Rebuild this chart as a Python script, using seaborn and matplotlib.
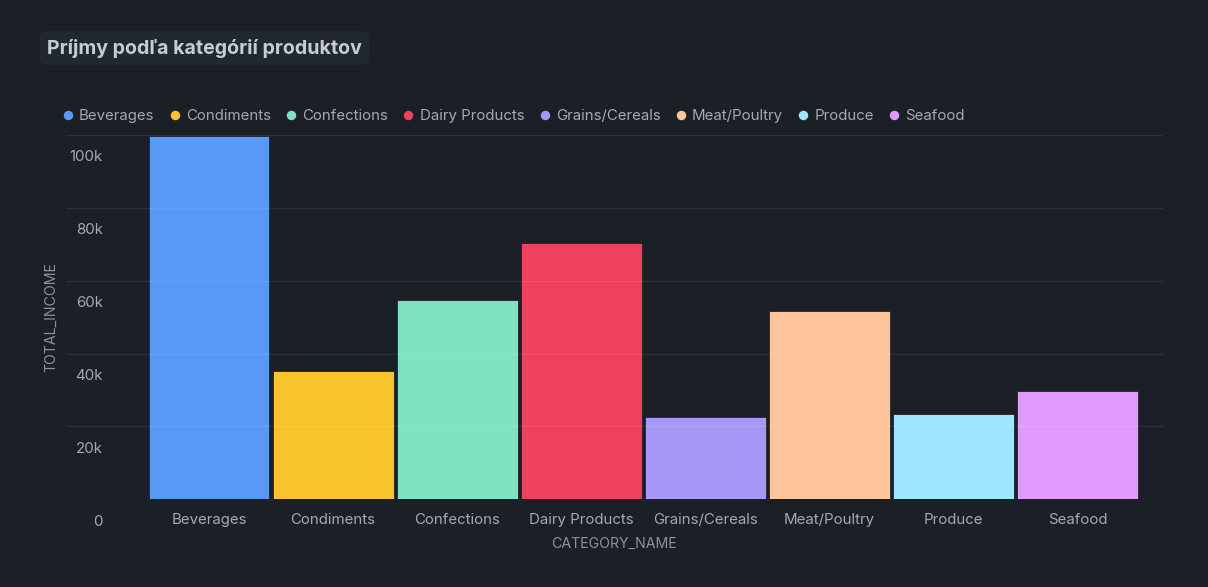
import matplotlib
matplotlib.use("Agg")
import matplotlib.pyplot as plt
import matplotlib.transforms as mtransforms
from matplotlib.lines import Line2D
from matplotlib.ticker import FuncFormatter
import seaborn as sns

# data
categories = ["Beverages", "Condiments", "Confections", "Dairy Products",
              "Grains/Cereals", "Meat/Poultry", "Produce", "Seafood"]
total_income = [99600, 35100, 54700, 70400, 22600, 51600, 23500, 29600]
bar_colors = ["#5899f8", "#f8c42c", "#7fe3c2", "#ef405d",
              "#a897f8", "#fec49c", "#9de6fe", "#e19bfd"]
y_ticks = [0, 20000, 40000, 60000, 80000, 100000]

BG = "#1b1f26"
TICK_COLOR = "#a2a9b7"
LABEL_COLOR = "#8b929f"

sns.set_theme(style="dark")
plt.rcParams["font.family"] = ["Inter", "DejaVu Sans"]

W, H, DPI = 1208, 587, 100
fig = plt.figure(figsize=(W / DPI, H / DPI), dpi=DPI, facecolor=BG)
ax = fig.add_axes([66 / W, 1 - 499.3 / H, 1097 / W, (499.3 - 135) / H])
ax.set_facecolor(BG)

sns.barplot(x=categories, y=total_income, hue=categories, palette=bar_colors,
            width=0.975, legend=False, saturation=1, ax=ax,
            edgecolor="#20242b", linewidth=0.6, zorder=2)

ax.set_xlim(-1.1526, 7.689)
ax.set_ylim(0, 100000)
ax.set_yticks(y_ticks)
ax.yaxis.set_major_formatter(FuncFormatter(lambda v, p: "0" if v == 0 else f"{int(v / 1000)}k"))

for s in ax.spines.values():
    s.set_visible(False)
# faint light gridlines, drawn on top so they show through the bars a little
ax.grid(axis="y", color="white", alpha=0.08, linewidth=1)
ax.grid(axis="x", visible=False)
ax.set_axisbelow(False)
for line in ax.get_ygridlines():
    line.set_zorder(3)

ax.tick_params(axis="y", length=0, pad=-26.6, labelsize=10.8, labelcolor=TICK_COLOR)
ax.tick_params(axis="x", length=0, pad=10, labelsize=10.8, labelcolor=TICK_COLOR)

# y labels sit below their gridlines in the reference
shift = mtransforms.ScaledTranslation(0, -21 / DPI, fig.dpi_scale_trans)
for lbl in ax.get_yticklabels():
    lbl.set_transform(lbl.get_transform() + shift)

ax.set_xlabel("CATEGORY_NAME", color=LABEL_COLOR, fontsize=10.2, labelpad=7)
ax.set_ylabel("TOTAL_INCOME", color=LABEL_COLOR, fontsize=10.2)
ax.yaxis.set_label_coords(-8 / 1097, 0.5)

# legend
handles = [Line2D([0], [0], marker="o", linestyle="", markersize=5.8,
                  markerfacecolor=c, markeredgecolor=c) for c in bar_colors]
fig.legend(handles, categories, loc="upper left", ncol=8, frameon=False,
           bbox_to_anchor=(63 / W, 1 - 109 / H), borderaxespad=0, borderpad=0,
           handlelength=0.6, handletextpad=0.45, columnspacing=1.05,
           prop={"size": 10.8}, labelcolor=TICK_COLOR)

fig.text(47 / W, 1 - 48 / H, "Príjmy podľa kategórií produktov",
         fontsize=14.1, fontweight="bold", color="#c6cbd4", va="center", ha="left",
         bbox=dict(boxstyle="round,pad=0.38,rounding_size=0.4", fc="#222831", ec="none"))

fig.savefig("out.png", dpi=DPI, facecolor=BG)
